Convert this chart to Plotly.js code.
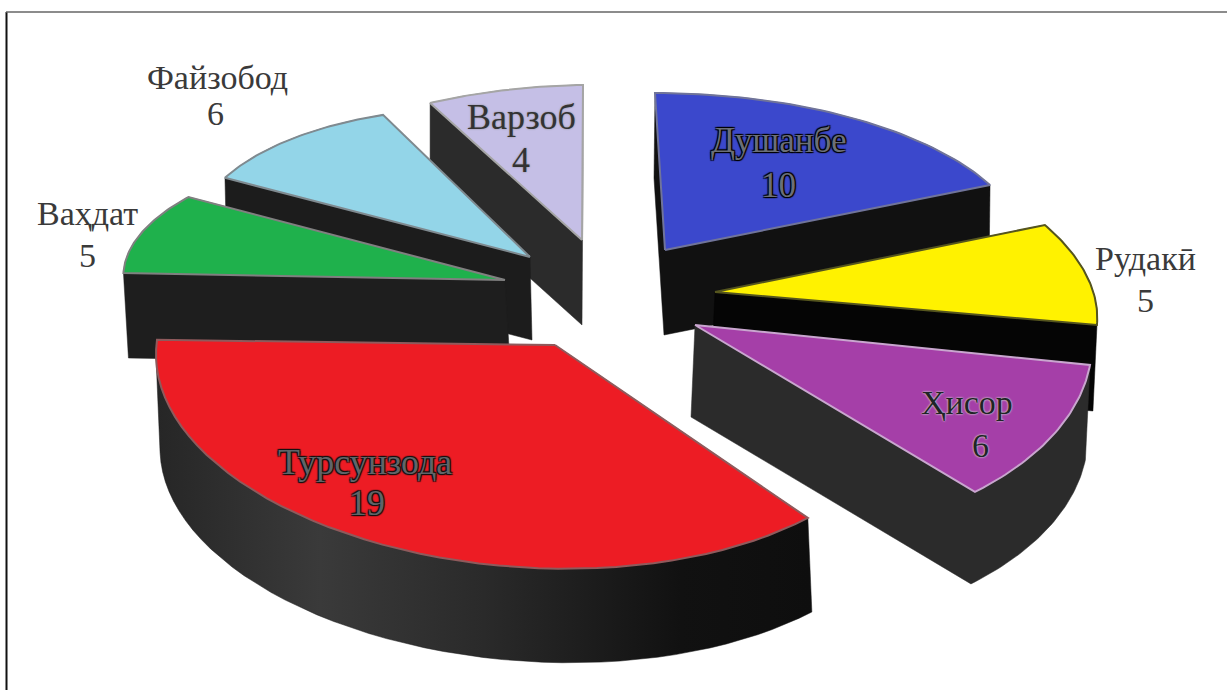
<!DOCTYPE html>
<html>
<head>
<meta charset="utf-8">
<script src="https://cdn.plot.ly/plotly-3.0.1.min.js"></script>
<style>html,body{margin:0;padding:0;background:#fff}#chart{width:1227px;height:690px}</style>
</head>
<body>
<div id="chart"></div>
<script>
// District shares, clockwise from the top of the disc.
const districts = ["Душанбе", "Рудакӣ", "Ҳисор", "Турсунзода", "Ваҳдат", "Файзобод", "Варзоб"];
const shares = [10, 5, 6, 19, 5, 6, 4];

// Colours of each wedge: top face, rim line, side wall.
const topColors  = ["#3b48cc", "#fff200", "#a53fa8", "#ed1c24", "#1fb14c", "#93d5e8", "#c5bfe6"];
const rimColors  = ["#70749a", "#55551e", "#c9a6cf", "#8f5a5c", "#808080", "#7f8a90", "#a5a5a5"];
const wallColors = ["#111111", "#050505", "#2b2b2b", "#1a1a1a", "#1e1e1e", "#1c1c1c", "#2b2b2b"];

// Exploded, perspective-warped placement of each wedge (pixel axes):
// apex, horizontal basis U, vertical basis V, rim bulge, extrusion vector.
const apexes = [[665,250],[715,292],[695,325],[555,345],[505,280],[530,257],[582,240]];
const basisU = [[361.9,0.2],[380.3,7.7],[396.8,9],[398.8,34.4],[376.5,27.2],[336,19],[346.3,-4.8]];
const basisV = [[-10,-157],[-38.6,-178.1],[-15.8,-218.3],[22.8,-203.2],[62.5,-140.2],[1.4,-149],[1,-155]];
const bulge  = [0, 0, 0, 0.11, 0, 0, 0];
const extrude = [[-1,85],[-4,86],[-4,92],[4,94],[5,85],[2,83],[0,85]];

// Back-to-front painting order.
const paintOrder = [6, 5, 0, 4, 1, 2, 3];

// Label anchors and lettering: name position, value position, size, fill, shadow.
const nameAt  = [[778,140],[1145,258],[967,402],[365,462],[87,213],[217,77],[521,117]];
const valueAt = [[778,185],[1145,300],[980,445],[367,503],[87,255],[215,113],[521,160]];
const labelSizes = [35, 34, 34, 36, 34, 34, 36];
const darkHalo = c => `1px 1px 1px ${c}, -1px -1px 1px ${c}, 1px -1px 1px ${c}, -1px 1px 1px ${c}`;
const labelColors  = ["#6b6f78", "#3a3a3a", "#1f2426", "#5f6468", "#3a3a3a", "#3a3a3a", "#333333"];
const labelShadows = [darkHalo("#000"), "none", "0 0 2px #ccc, 0 0 2px #ccc", darkHalo("#111"), "none", "none", "0 0 2px #888"];

function wedgeOutline(i, startDeg, endDeg) {
  const pts = [apexes[i]];
  const steps = 48;
  for (let k = 0; k <= steps; k++) {
    const t = k / steps;
    const a = (startDeg + (endDeg - startDeg) * t) * Math.PI / 180;
    const r = 1 + bulge[i] * Math.sin(Math.PI * t);
    pts.push([
      apexes[i][0] + r * (basisU[i][0] * Math.sin(a) + basisV[i][0] * Math.cos(a)),
      apexes[i][1] + r * (basisU[i][1] * Math.sin(a) + basisV[i][1] * Math.cos(a))
    ]);
  }
  return pts;
}

function convexHull(points) {
  const p = points.slice().sort((a, b) => a[0] - b[0] || a[1] - b[1]);
  const cross = (o, a, b) => (a[0]-o[0])*(b[1]-o[1]) - (a[1]-o[1])*(b[0]-o[0]);
  const half = list => {
    const h = [];
    for (const q of list) {
      while (h.length >= 2 && cross(h[h.length-2], h[h.length-1], q) <= 0) h.pop();
      h.push(q);
    }
    h.pop();
    return h;
  };
  return half(p).concat(half(p.reverse()));
}

const total = shares.reduce((a, b) => a + b, 0);
const bounds = [0];
shares.forEach(v => bounds.push(bounds[bounds.length-1] + v / total * 360));

const traces = [];
paintOrder.forEach(i => {
  const top = wedgeOutline(i, bounds[i], bounds[i+1]);
  const lowered = top.map(q => [q[0] + extrude[i][0], q[1] + extrude[i][1]]);
  const wall = convexHull(top.concat(lowered));
  const wallTrace = {
    type: "scatter", mode: "lines", hoverinfo: "skip", showlegend: false,
    x: wall.map(q => q[0]).concat(wall[0][0]),
    y: wall.map(q => q[1]).concat(wall[0][1]),
    fill: "toself", fillcolor: wallColors[i],
    line: {color: wallColors[i], width: 0.5}
  };
  if (districts[i] === "Турсунзода") {
    wallTrace.fillgradient = {
      type: "horizontal",
      colorscale: [[0, "#262626"], [0.25, "#3a3a3a"], [0.5, "#2a2a2a"], [0.8, "#111111"], [1, "#0e0e0e"]]
    };
  }
  traces.push(wallTrace);
  traces.push({
    type: "scatter", mode: "lines", hoverinfo: "skip", showlegend: false,
    name: districts[i],
    x: top.map(q => q[0]).concat(top[0][0]),
    y: top.map(q => q[1]).concat(top[0][1]),
    fill: "toself", fillcolor: topColors[i],
    line: {color: rimColors[i], width: 2}
  });
});

const annotations = [];
districts.forEach((d, i) => {
  const font = {family: "Liberation Serif, serif", size: labelSizes[i], color: labelColors[i], shadow: labelShadows[i]};
  annotations.push({x: nameAt[i][0], y: nameAt[i][1], text: d, showarrow: false, xref: "x", yref: "y", font});
  annotations.push({x: valueAt[i][0], y: valueAt[i][1], text: String(shares[i]), showarrow: false, xref: "x", yref: "y", font});
});

const hiddenAxis = {visible: false, fixedrange: true, showgrid: false, zeroline: false};

Plotly.newPlot("chart", traces, {
  width: 1227, height: 690,
  margin: {l: 0, r: 0, t: 0, b: 0},
  paper_bgcolor: "#ffffff", plot_bgcolor: "#ffffff",
  showlegend: false,
  xaxis: Object.assign({range: [0, 1227]}, hiddenAxis),
  yaxis: Object.assign({range: [690, 0]}, hiddenAxis),
  annotations,
  // Frame: black rule down the left, grey rule along the top.
  shapes: [
    {type: "line", xref: "x", yref: "y", x0: 6.5, x1: 6.5, y0: 12, y1: 690, line: {color: "#111111", width: 2}},
    {type: "line", xref: "x", yref: "y", x0: 6, x1: 1227, y0: 12, y1: 12, line: {color: "#666666", width: 1.5}}
  ]
}, {displayModeBar: false, staticPlot: true});
</script>
</body>
</html>
